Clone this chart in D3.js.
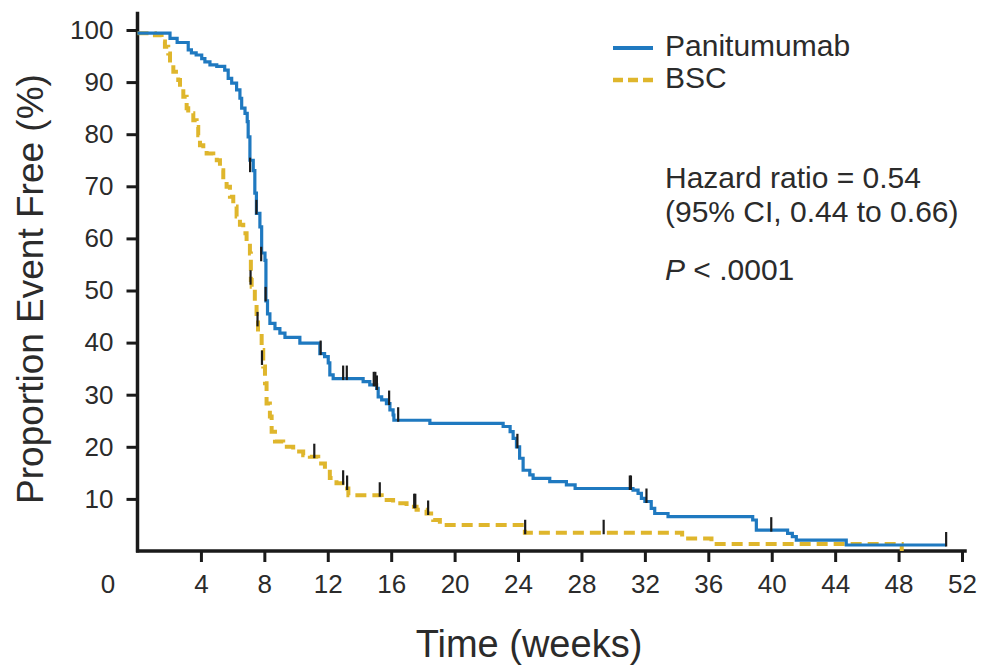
<!DOCTYPE html>
<html>
<head>
<meta charset="utf-8">
<script src="https://cdn.jsdelivr.net/npm/d3@7"></script>
<style>
  body { margin: 0; background: #fff; }
  text { font-family: "Liberation Sans", Arial, sans-serif; fill: #2b2b2b; }
</style>
</head>
<body>
<div id="km"></div>
<script>
// step points: [week, % event free] - value holds from this week until the next point
var panitumumabSteps = [
  [0, 99.4], [2.05, 98.4], [2.5, 97.6], [3.2, 96.2], [3.4, 95.6], [3.7, 95.2],
  [4.05, 94.5], [4.25, 93.9], [4.57, 93.3], [5.0, 93.0], [5.5, 92.3], [5.72, 90.7],
  [5.94, 89.8], [6.25, 88.5], [6.46, 86.9], [6.57, 85.0], [6.78, 84.0], [6.92, 82.4],
  [6.98, 79.5], [7.09, 75.0], [7.3, 73.0], [7.4, 68.7], [7.5, 64.8], [7.72, 62.2],
  [7.83, 57.2], [8.04, 55.8], [8.1, 48.0], [8.2, 45.5], [8.35, 43.7], [8.67, 42.7],
  [8.98, 41.8], [9.3, 41.0], [10.24, 39.9], [11.5, 37.9], [11.8, 37.3], [12.03, 36.1],
  [12.13, 33.8], [12.34, 33.1], [14.23, 32.5], [14.65, 31.9], [15.08, 31.2], [15.18, 29.6],
  [15.4, 29.0], [15.7, 28.3], [15.92, 27.1], [16.12, 26.1], [16.17, 25.1], [18.44, 24.5],
  [23.06, 23.9], [23.5, 22.9], [23.69, 21.6], [23.9, 20.0], [24.1, 17.8], [24.32, 15.5],
  [24.74, 14.6], [24.95, 13.95], [26.0, 13.3], [27.05, 12.7], [27.6, 12.0], [31.25, 11.7],
  [31.57, 11.07], [31.78, 10.1], [32.0, 9.5], [32.4, 8.2], [32.62, 7.2], [33.46, 6.6],
  [38.8, 5.95], [39.03, 4.0], [41.0, 3.4], [41.3, 2.75], [41.55, 2.1], [44.7, 1.15],
  [51.0, 1.15]
];
var bscSteps = [
  [0, 99.4], [1.1, 99.0], [1.52, 97.8], [1.73, 96.8], [1.94, 95.5], [2.05, 93.6],
  [2.26, 92.0], [2.57, 90.4], [2.68, 89.1], [2.89, 87.2], [3.1, 85.0], [3.2, 84.0],
  [3.52, 82.7], [3.73, 81.4], [3.83, 79.8], [3.94, 77.9], [4.15, 77.0], [4.36, 76.3],
  [4.78, 75.7], [5.0, 75.0], [5.2, 73.1], [5.41, 71.2], [5.62, 69.9], [5.83, 68.0],
  [6.04, 66.1], [6.25, 64.2], [6.46, 62.6], [6.67, 61.0], [6.88, 59.0], [7.09, 57.1],
  [7.15, 52.0], [7.2, 50.7], [7.4, 47.5], [7.51, 44.3], [7.6, 41.8], [7.83, 38.6],
  [7.93, 35.4], [8.04, 32.2], [8.14, 28.3], [8.35, 25.8], [8.46, 22.9], [8.67, 21.0],
  [9.19, 20.0], [9.82, 19.1], [10.45, 18.4], [10.87, 18.1], [11.4, 16.8], [11.82, 15.2],
  [12.13, 14.0], [12.55, 13.0], [13.08, 12.0], [13.3, 10.7], [15.4, 9.8], [16.12, 9.15],
  [16.97, 8.5], [17.6, 7.9], [18.23, 7.2], [18.65, 5.95], [19.07, 5.0], [24.43, 3.5],
  [34.35, 2.4], [36.2, 1.35], [48.2, 0]
];

// censored observations: [week, % event free]
var panitumumabCensors = [
  [7.1, 73.0], [7.5, 64.9], [7.8, 55.9], [8.08, 48.2], [11.55, 37.9], [12.97, 33.1],
  [13.2, 33.1], [14.9, 31.9], [15.0, 31.9], [15.1, 31.2], [15.87, 28.3], [16.44, 25.1],
  [23.96, 20.0], [31.05, 12.0], [31.12, 12.0], [32.1, 9.5], [39.97, 4.0], [51.0, 1.15]
];
var bscCensors = [
  [7.13, 51.4], [7.57, 43.4], [7.85, 36.0], [11.15, 18.1], [12.97, 13.0], [13.22, 12.0],
  [15.28, 10.7], [17.45, 8.5], [17.52, 8.5], [18.33, 7.2], [24.45, 3.5], [29.4, 3.5]
];

var xTicks = [0, 4, 8, 12, 16, 20, 24, 28, 32, 36, 40, 44, 48, 52];
var yTicks = [10, 20, 30, 40, 50, 60, 70, 80, 90, 100];
var seriesNames = ["Panitumumab", "BSC"];
var statsLines = ["Hazard ratio = 0.54", "(95% CI, 0.44 to 0.66)"];
var pValueText = ".0001";

// set the dimensions and margins of the graph
var margin = {top: 30, right: 21, bottom: 118, left: 137.5},
    width = 983 - margin.left - margin.right,
    height = 669 - margin.top - margin.bottom;

var blue = "#1f79c0",
    gold = "#dfb62c";

var x = d3.scaleLinear().domain([0, 52]).range([0, width]);
var y = d3.scaleLinear().domain([0, 100]).range([height, 0]);

var line = d3.line()
    .curve(d3.curveStepAfter)
    .x(function(d) { return x(d[0]); })
    .y(function(d) { return y(d[1]); });

var svg = d3.select("#km").append("svg")
    .attr("width", 983)
    .attr("height", 669)
    .append("g")
    .attr("transform", "translate(" + margin.left + "," + margin.top + ")");

// X axis (the 0 label sits left of the corner, no tick there)
var xAxis = svg.append("g")
    .attr("transform", "translate(0," + height + ")")
    .call(d3.axisBottom(x)
        .tickValues(xTicks)
        .tickSize(11)
        .tickSizeOuter(0)
        .tickPadding(13));
xAxis.select(".domain").remove();
xAxis.selectAll(".tick line").attr("stroke", "#1a1a1a").attr("stroke-width", 3);
xAxis.selectAll(".tick text").style("font-size", "26px").attr("fill", "#2b2b2b");
xAxis.selectAll(".tick").filter(function(d) { return d === 0; })
    .each(function() {
        d3.select(this).select("line").remove();
        d3.select(this).select("text").attr("x", -30);
    });

// Y axis
var yAxis = svg.append("g")
    .call(d3.axisLeft(y)
        .tickValues(yTicks)
        .tickSize(11)
        .tickSizeOuter(0)
        .tickPadding(13));
yAxis.select(".domain").remove();
yAxis.selectAll(".tick line").attr("stroke", "#1a1a1a").attr("stroke-width", 3);
yAxis.selectAll(".tick text").style("font-size", "26px").attr("fill", "#2b2b2b");

// axis lines, drawn a little past the last ticks like the original
svg.append("line")
    .attr("x1", x(0)).attr("x2", x(0))
    .attr("y1", y(0) + 1.5).attr("y2", y(103.5))
    .attr("stroke", "#1a1a1a").attr("stroke-width", 3.5);
svg.append("line")
    .attr("x1", x(0) - 1.5).attr("x2", x(52.3))
    .attr("y1", y(0)).attr("y2", y(0))
    .attr("stroke", "#1a1a1a").attr("stroke-width", 3.5);

// survival curves
svg.append("path")
    .datum(bscSteps)
    .attr("fill", "none")
    .attr("stroke", gold)
    .attr("stroke-width", 4)
    .attr("stroke-dasharray", "11,6")
    .attr("d", line);

svg.append("path")
    .datum(panitumumabSteps)
    .attr("fill", "none")
    .attr("stroke", blue)
    .attr("stroke-width", 3.2)
    .attr("d", line);

// censor marks: short dark ticks rising from the curve
function drawCensors(data) {
    svg.append("g").selectAll("line")
        .data(data)
        .enter()
        .append("line")
        .attr("x1", function(d) { return x(d[0]); })
        .attr("x2", function(d) { return x(d[0]); })
        .attr("y1", function(d) { return y(d[1]) + 1.5; })
        .attr("y2", function(d) { return y(d[1]) - 13; })
        .attr("stroke", "#1c1c1c")
        .attr("stroke-width", 2.2);
}
drawCensors(panitumumabCensors);
drawCensors(bscCensors);

// legend
var legend = svg.append("g")
    .attr("transform", "translate(" + (613 - margin.left) + "," + (48 - margin.top) + ")");
legend.append("line")
    .attr("x1", 0).attr("x2", 40).attr("y1", 0).attr("y2", 0)
    .attr("stroke", blue).attr("stroke-width", 4);
legend.append("line")
    .attr("x1", 0).attr("x2", 40).attr("y1", 32).attr("y2", 32)
    .attr("stroke", gold).attr("stroke-width", 4.5)
    .attr("stroke-dasharray", "10,5");
legend.selectAll("text.series")
    .data(seriesNames)
    .enter()
    .append("text")
    .attr("class", "series")
    .attr("x", 52)
    .attr("y", function(d, i) { return 8 + i * 32; })
    .style("font-size", "30px")
    .text(function(d) { return d; });

// hazard ratio annotation
var stats = svg.append("g")
    .attr("transform", "translate(" + (665 - margin.left) + ",0)");
stats.selectAll("text.hr")
    .data(statsLines)
    .enter()
    .append("text")
    .attr("class", "hr")
    .attr("y", function(d, i) { return 188 - margin.top + i * 34; })
    .style("font-size", "30px")
    .text(function(d) { return d; });
var pText = stats.append("text")
    .attr("y", 280 - margin.top)
    .style("font-size", "30px");
pText.append("tspan").style("font-style", "italic").text("P");
pText.append("tspan").text(" < " + pValueText);

// axis titles
svg.append("text")
    .attr("transform", "translate(" + (43 - margin.left) + "," + (289 - margin.top) + ") rotate(-90)")
    .attr("text-anchor", "middle")
    .style("font-size", "37px")
    .text("Proportion Event Free (%)");

svg.append("text")
    .attr("x", 529 - margin.left)
    .attr("y", 657 - margin.top)
    .attr("text-anchor", "middle")
    .style("font-size", "38px")
    .text("Time (weeks)");
</script>
</body>
</html>
